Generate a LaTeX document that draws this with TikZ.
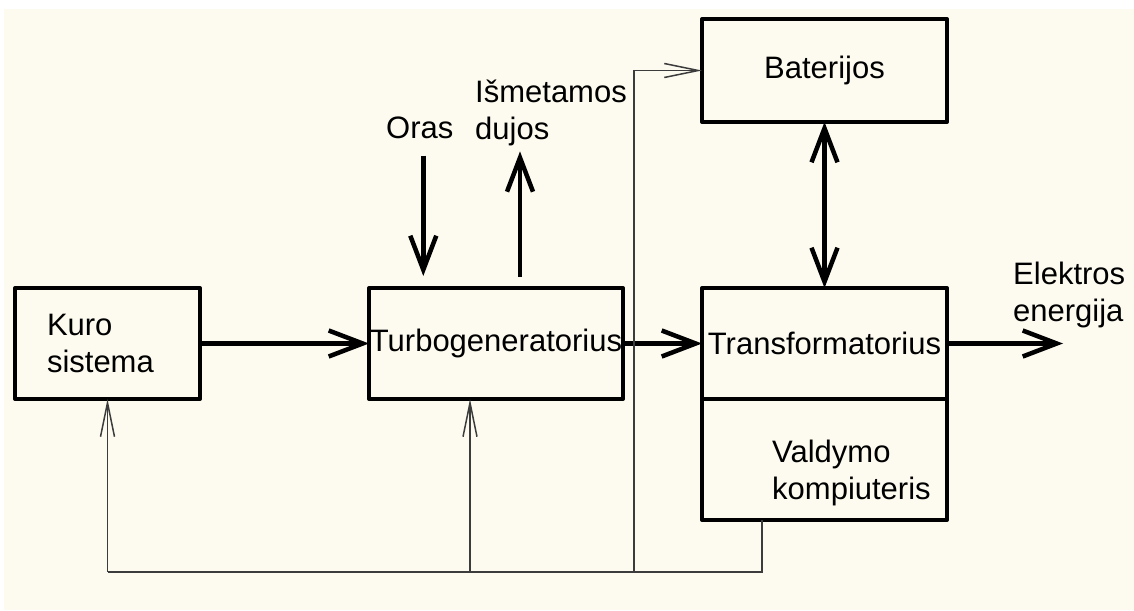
\documentclass[tikz,border=0pt]{standalone}
\usepackage{fontspec}
\setmainfont{Liberation Sans}
\usepackage{xcolor}
\usetikzlibrary{arrows.meta, positioning}
\definecolor{bgcream}{RGB}{253,251,239}
\definecolor{fbgray}{RGB}{60,60,60}

\begin{document}
\begin{tikzpicture}[x=1pt, y=-1pt, >={Straight Barb[length=34pt, width=26pt]}, font=\fontsize{31}{37}\selectfont]
    \tikzset{
        block/.style={rectangle, draw=black, line width=4pt, line join=round, inner sep=0pt, outer sep=0pt, minimum height=111pt, align=center},
        txt/.style={inner sep=0pt, align=left},
        line/.style={draw, ->, line width=4.5pt},
        fb/.style={draw=fbgray, line width=1.5pt},
        fbline/.style={fb, -{Straight Barb[length=34pt, width=14pt]}}
    }

    \useasboundingbox (0,0) rectangle (1134,610);
    \fill [bgcream] (4,9) rectangle (1134,610);

    \node (Kuro) [block, minimum width=185pt, text width=121pt, align=left] at (107.5,343.5) {Kuro\\sistema};
    \node (Turbo) [block, minimum width=254pt, right=169pt of Kuro] {Turbogeneratorius};
    \node (Trans) [block, minimum width=245pt, right=79pt of Turbo] {Transformatorius};
    \node (Valdymo) [block, minimum width=245pt, minimum height=121pt, below=0pt of Trans] {};
    \node (Baterijos) [block, minimum width=245pt, minimum height=103pt, above=166pt of Trans] {Baterijos};

    \node (ValdymoTxt) [txt, anchor=north west] at ([xshift=70pt, yshift=-41pt]Valdymo.north west) {Valdymo\\kompiuteris};
    \node (Oras) [txt, anchor=base west] at (386,138) {Oras};
    \node (Ismetamos) [txt, anchor=north west] at (475,80) {Išmetamos\\dujos};
    \node (Elektros) [txt, anchor=north west] at (1013,262) {Elektros\\energija};

    \coordinate [right=116pt of Trans.east] (ElOut);

    \path [line] (Kuro) -- (Turbo);
    \path [line] (Turbo) -- (Trans);
    \path [line] (Trans) -- (ElOut);
    \path [line, <->] (Baterijos) -- (Trans);
    \path [line, shorten <=17pt, shorten >=12pt] ([xshift=3.5pt]Oras.south) -- ([xshift=3.5pt]Oras.south |- Turbo.north);
    \path [line, shorten <=11pt, shorten >=5pt] ([xshift=24pt]Turbo.north) -- ([xshift=24pt]Turbo.north |- Ismetamos.south);

    % feedback from the control computer
    \coordinate (Bus) at (0,572);
    \coordinate (FbStart) at ([xshift=-62.5pt]Valdymo.south);
    \coordinate (TurboIn) at ([xshift=-26pt]Turbo.south);
    \coordinate (BatX) at ([xshift=-68pt]Trans.west);

    \path [fb] (FbStart) |- (Kuro.south |- Bus);
    \path [fbline] (Kuro.south |- Bus) -- (Kuro.south);
    \path [fbline] (TurboIn |- Bus) -- (TurboIn);
    \path [fbline] (BatX |- Bus) |- (Baterijos.west);

\end{tikzpicture}
\end{document}
